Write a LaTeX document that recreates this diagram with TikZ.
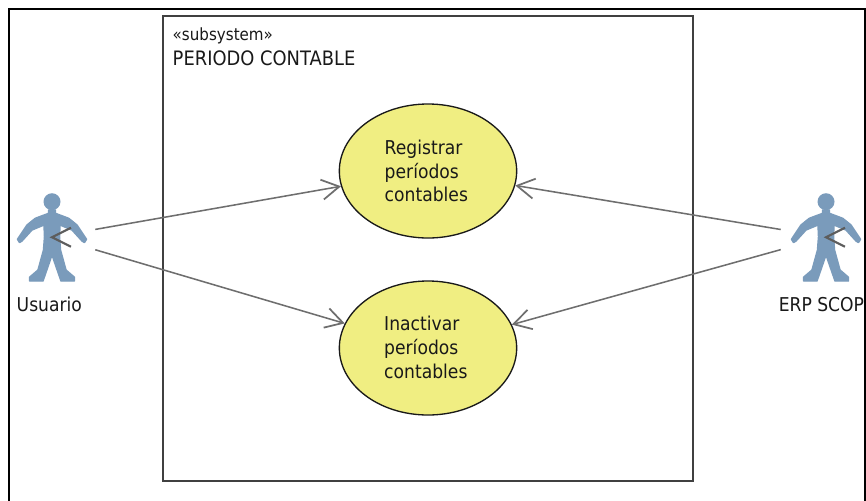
\documentclass[tikz,border=0pt]{standalone}
\usepackage{fontspec}
\setmainfont{DejaVu Sans}
\usetikzlibrary{arrows.meta,shapes.geometric}
\definecolor{actorblue}{HTML}{7A9BBB}
\definecolor{usecase}{HTML}{F0EE82}
\definecolor{connector}{HTML}{6E6E6E}
\tikzset{
  x=0.75pt,y=-0.75pt,
  frame/.style={draw=black,line width=1.5pt,fill=white},
  subsys/.style={draw=black!75,line width=1pt,fill=white},
  usecasenode/.style={ellipse,draw=black!90,line width=1pt,fill=usecase,minimum width=133pt,minimum height=100.5pt,inner sep=0pt,align=left},
  actorbox/.style={rectangle,inner sep=0pt,minimum height=75pt},
  assoc/.style={draw=connector,line width=1.15pt,-{Straight Barb[length=13pt,width=15pt,line width=1.3pt]}},
  stray/.style={draw=connector!85!black,line width=1.6pt},
  txt/.style={inner sep=0pt,anchor=base west,text=black!90,xscale=0.9,font=\fontsize{14.3}{16}\selectfont},
  sysname/.style={txt,font=\fontsize{14.9}{16}\selectfont},
  stereotype/.style={txt,font=\fontsize{12.6}{14}\selectfont},
}
\newcommand{\actorfig}[1]{%
  \begin{scope}[shift={(#1)}]
    \fill[actorblue] (0,-35.3) circle (8.5);
    \filldraw[actorblue,line width=1.1pt,line join=round]
      (-3.3,-27) -- (3.3,-27) -- (3.3,-23.7) -- (16.7,-18.7) -- (25,-12) -- (34.5,2.3) -- (32.5,5.5) -- (30,4) -- (20,-7) -- (8,-12) -- (7.5,-0.3) -- (8.5,13) -- (14,33) -- (22.5,40.3) -- (22.5,44) -- (9,44) -- (0,18)
      -- (-9,44) -- (-22.5,44) -- (-22.5,40.3) -- (-14,33) -- (-8.5,13) -- (-7.5,-0.3) -- (-8,-12) -- (-20,-7) -- (-30,4) -- (-32.5,5.5) -- (-34.5,2.3) -- (-25,-12) -- (-16.7,-18.7) -- (-3.3,-23.7) -- cycle;
    \draw[stray] (19,-9.3) -- (0,0.3) -- (19,9.7);
  \end{scope}}
\begin{document}
\begin{tikzpicture}
\useasboundingbox (0,0) rectangle (866,500);
\begin{scope}
\clip (0,0) rectangle (866,500);
\draw[frame] (9,9) rectangle (865,520);
\draw[subsys] (163,16) rectangle (693,481);
\actorfig{52,237}
\actorfig{826,237}
\node[usecasenode] (reg) at (428,171) {};
\node[usecasenode] (ina) at (428,348) {};
\node[actorbox,minimum width=64.5pt] (usuario) at (52,237) {};
\node[actorbox,minimum width=67.5pt] (erp) at (826,237) {};
\draw[assoc] (usuario) -- (reg);
\draw[assoc] (usuario) -- (ina);
\draw[assoc] (erp) -- (reg);
\draw[assoc] (erp) -- (ina);
\node[stereotype] (stereo) at (172.5,40) {«subsystem»};
\node[sysname] (sysnm) at (172.5,65) {PERIODO CONTABLE};
\node[txt] (r1) at (384.5,154) {Registrar};
\node[txt] (r2) at (384.5,178) {períodos};
\node[txt] (r3) at (384.5,201) {contables};
\node[txt] (i1) at (384,330) {Inactivar};
\node[txt] (i2) at (384,354) {períodos};
\node[txt] (i3) at (384,378) {contables};
\node[txt] (ul) at (16.5,311) {Usuario};
\node[txt] (el) at (778.5,311) {ERP SCOP};
\end{scope}
\end{tikzpicture}
\end{document}
